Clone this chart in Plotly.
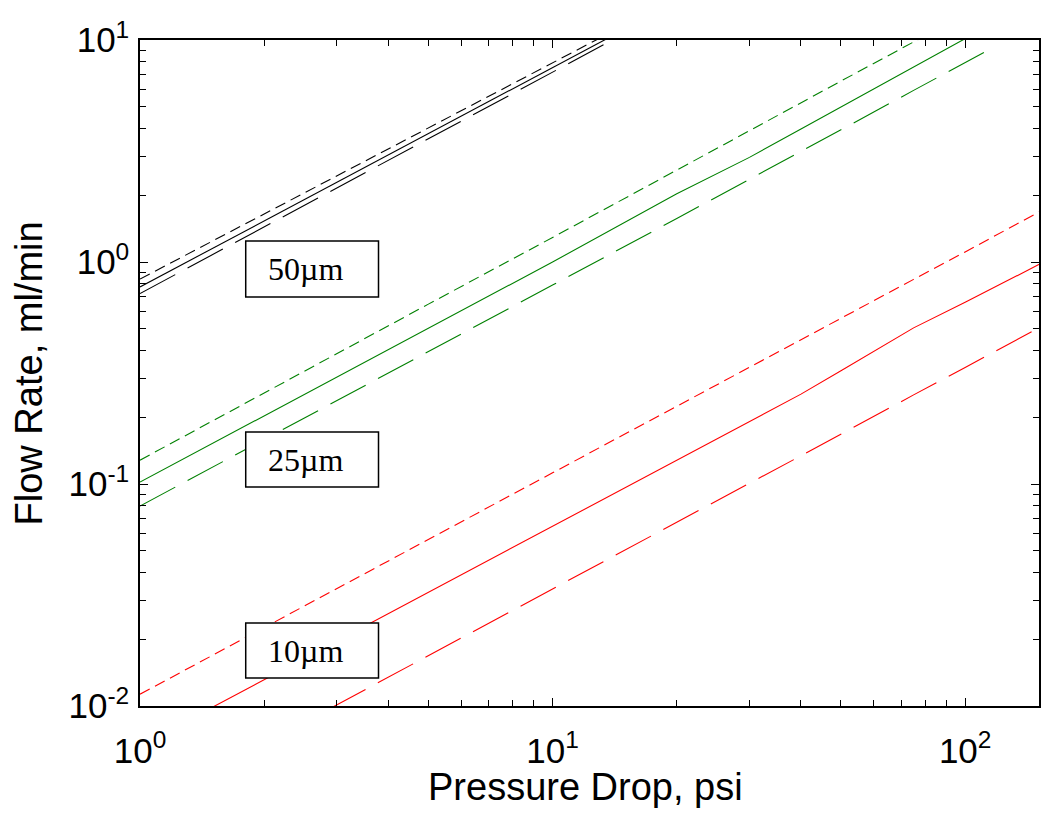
import math
import plotly.graph_objects as go

# ---- data ----
pressure_black = [1, 2, 5, 10, 15, 20]
flow_50_dash = [0.838, 1.648, 4.03, 7.93, 11.7, 15.5]
flow_50_solid = [0.772, 1.532, 3.79, 7.53, 11.2, 14.9]
flow_50_long = [0.721, 1.439, 3.59, 7.16, 10.7, 14.3]

pressure_green = [1, 2, 5, 10, 20, 30, 40, 50, 75, 100, 115]
flow_25_dash = [0.128, 0.258, 0.646, 1.29, 2.60, 3.91, 5.22, 6.53, 9.8, 13.1, 15.0]
flow_25_solid = [0.102, 0.203, 0.505, 1.0, 2.03, 2.96, 3.97, 4.99, 7.55, 10.1, 11.7]
flow_25_long = [0.0796, 0.159, 0.397, 0.787, 1.57, 2.35, 3.15, 3.94, 5.93, 7.92, 9.1]

pressure_red = [1, 2, 5, 10, 20, 30, 40, 50, 75, 100, 150, 160]
flow_10_dash = [0.0113, 0.0225, 0.0562, 0.1123, 0.224, 0.336, 0.447, 0.558, 0.835, 1.11, 1.67, 1.78]
flow_10_solid = [0.00662, 0.01315, 0.0326, 0.0647, 0.1285, 0.192, 0.254, 0.324, 0.505, 0.658, 0.968, 1.03]
flow_10_long = [0.00338, 0.00676, 0.01687, 0.0337, 0.0673, 0.1008, 0.134, 0.168, 0.252, 0.335, 0.502, 0.535]

x_tick_vals = [1, 10, 100]
x_tick_text = ["10<sup>0</sup>", "10<sup>1</sup>", "10<sup>2</sup>"]
y_tick_vals = [0.01, 0.1, 1, 10]
y_tick_text = ["10<sup>-2</sup>", "10<sup>-1</sup>", "10<sup>0</sup>", "10<sup>1</sup>"]
size_labels = ["50µm", "25µm", "10µm"]

x_max = 151
y_min, y_max = 0.01, 10

SHORT = "11px,6px"
LONG = "40px,14px"
BLACK = "black"
GREEN = "#008000"
RED = "#ff0000"

series = [
    (pressure_black, flow_50_dash, BLACK, SHORT),
    (pressure_black, flow_50_solid, BLACK, "solid"),
    (pressure_black, flow_50_long, BLACK, LONG),
    (pressure_green, flow_25_dash, GREEN, SHORT),
    (pressure_green, flow_25_solid, GREEN, "solid"),
    (pressure_green, flow_25_long, GREEN, LONG),
    (pressure_red, flow_10_dash, RED, SHORT),
    (pressure_red, flow_10_solid, RED, "solid"),
    (pressure_red, flow_10_long, RED, LONG),
]

fig = go.Figure()
for xs, ys, col, dash in series:
    fig.add_trace(go.Scatter(x=xs, y=ys, mode="lines",
                             line=dict(color=col, width=1.1, dash=dash),
                             showlegend=False, hoverinfo="skip"))

def minor_vals(lo_exp, hi_exp):
    vals = []
    for e in range(lo_exp, hi_exp + 1):
        for m in range(2, 10):
            vals.append(m * 10 ** e)
    return vals

tick_font = dict(family="Liberation Sans, Arial, sans-serif", size=35, color="black")
axis_common = dict(
    type="log", showline=True, linecolor="black", linewidth=1.5, mirror="ticks",
    ticks="inside", ticklen=8, tickwidth=1, tickcolor="black",
    showgrid=False, zeroline=False, tickfont=tick_font,
)

fig.update_layout(
    width=1046, height=815,
    margin=dict(l=140, r=5, t=40, b=109),
    plot_bgcolor="white", paper_bgcolor="white",
    xaxis=dict(range=[0, math.log10(x_max)], tickvals=x_tick_vals, ticktext=x_tick_text,
               ticklabelstandoff=13,
               minor=dict(ticks="inside", ticklen=6, tickcolor="black", tickwidth=1,
                          tickvals=minor_vals(0, 2), showgrid=False),
               **axis_common),
    yaxis=dict(range=[math.log10(y_min), math.log10(y_max)], tickvals=y_tick_vals, ticktext=y_tick_text,
               ticklabelstandoff=2,
               minor=dict(ticks="inside", ticklen=6, tickcolor="black", tickwidth=1,
                          tickvals=minor_vals(-2, 0), showgrid=False),
               **axis_common),
)

# axis titles
title_font = dict(family="Liberation Sans, Arial, sans-serif", size=38, color="black")
fig.add_annotation(text="Pressure Drop, psi", xref="paper", yref="paper",
                   x=0.495, y=-0.1215, xanchor="center", yanchor="middle",
                   showarrow=False, font=title_font)
fig.add_annotation(text="Flow Rate, ml/min", xref="paper", yref="paper",
                   x=-0.123, y=0.5, xanchor="center", yanchor="middle", textangle=-90,
                   showarrow=False, font=title_font)

# labelled boxes
box_x0, box_x1 = 0.1176, 0.2653
boxes = [(0.6141, 0.6982), (0.3288, 0.4114), (0.0420, 0.1246)]
for lab, (b0, b1) in zip(size_labels, boxes):
    fig.add_shape(type="rect", xref="paper", yref="paper", x0=box_x0, x1=box_x1, y0=b0, y1=b1,
                  line=dict(color="black", width=1.5), fillcolor="white", layer="above")
    fig.add_annotation(text=lab, xref="paper", yref="paper", x=0.1398, y=(b0 + b1) / 2,
                       xanchor="left", yanchor="middle", showarrow=False,
                       font=dict(family="Liberation Serif, Times New Roman, serif", size=32, color="black"))

fig.write_html("out.html")
